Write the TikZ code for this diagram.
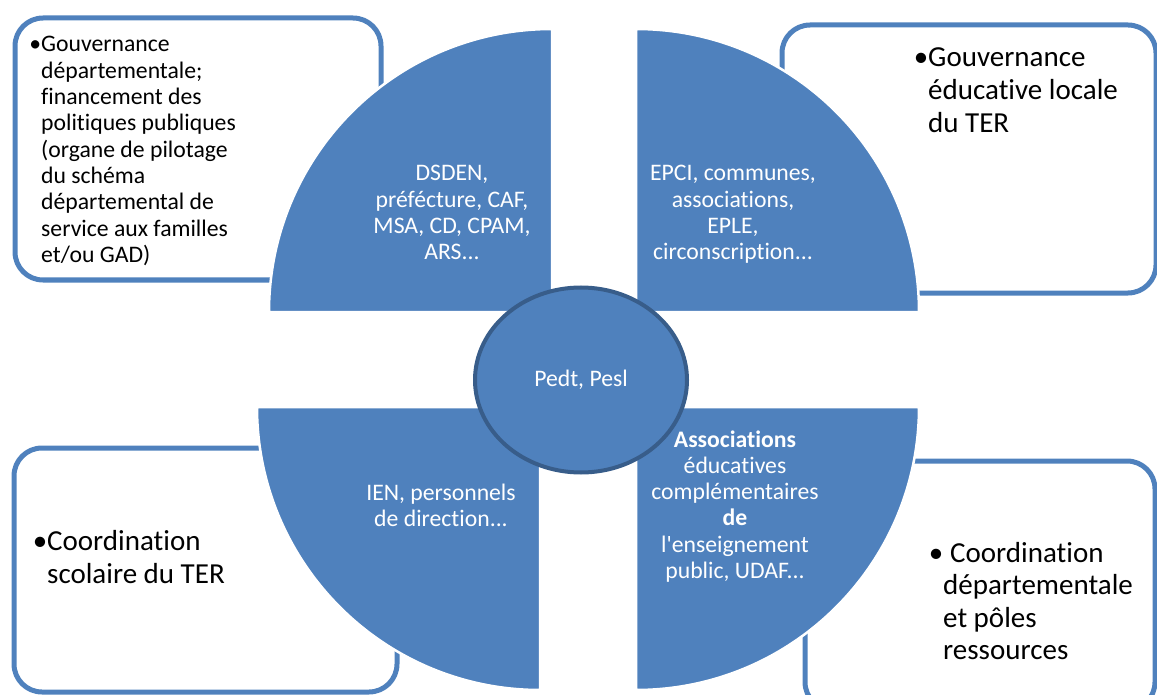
\documentclass[tikz,border=0pt]{standalone}
\usepackage{fontspec}
\setmainfont{Carlito}[Ligatures={TeXOff,CommonOff}]
\usetikzlibrary{shapes.geometric}
\definecolor{accentblue}{HTML}{4F81BD}
\definecolor{darkblue}{HTML}{385D8A}
\newcommand{\puce}{\llap{\textbullet}}
\tikzset{
  cadre/.style={draw=accentblue, line width=5pt, rounded corners=28pt},
  secteur/.style={fill=accentblue, draw=white, line width=2.5pt},
  hub/.style={ellipse, draw=darkblue, line width=4pt, fill=accentblue,
    minimum width=212pt, minimum height=185pt, inner sep=0pt,
    text=white, font=\fontsize{23.7}{26.3}\selectfont},
  intext/.style={text=white, anchor=base, inner sep=0pt,
    font=\fontsize{23.7}{26.3}\selectfont},
  outtext/.style={anchor=base west, inner sep=0pt}
}
\begin{document}
\begin{tikzpicture}[x=1pt,y=-1pt]
\useasboundingbox (0,0) rectangle (1157,695);

% outer boxes
\draw[cadre] (15,18)   rectangle (381,280);
\draw[cadre] (782,25)  rectangle (1156,293);
\draw[cadre] (14,448)  rectangle (397,692);
\draw[cadre] (805,461) rectangle (1155,710);

% quarters
\filldraw[secteur] (552,312) -- (269,312) arc[start angle=180, end angle=270, radius=283] -- cycle;
\filldraw[secteur] (636,312) -- (636,29)  arc[start angle=270, end angle=360, radius=283] -- cycle;
\filldraw[secteur] (540,407) -- (540,690) arc[start angle=90,  end angle=180, radius=283] -- cycle;
\filldraw[secteur] (636,407) -- (919,407) arc[start angle=0,   end angle=90,  radius=283] -- cycle;

% centre
\node[hub] (pedt) at (581,380) {Pedt, Pesl};

% texts in the quarters
\node[intext] (membres) at (452,181) {\begin{tabular}[t]{@{}c@{}}DSDEN,\\préfécture, CAF,\\MSA, CD, CPAM,\\ARS...\end{tabular}};
\node[intext] (locaux) at (733,181) {\begin{tabular}[t]{@{}c@{}}EPCI, communes,\\associations,\\EPLE,\\circonscription...\end{tabular}};
\node[intext] (ien) at (441,500) {\begin{tabular}[t]{@{}c@{}}IEN, personnels\\de direction...\end{tabular}};
\node[intext] (assoc) at (735,447) {\begin{tabular}[t]{@{}c@{}}\textbf{Associations}\\éducatives\\complémentaires\\\textbf{de}\\l'enseignement\\public, UDAF...\end{tabular}};

% texts in the boxes
\node[outtext, font=\fontsize{23.7}{26.3}\selectfont] (gouvdep) at (41,52) {\begin{tabular}[t]{@{}l@{}}\puce Gouvernance\\départementale;\\financement des\\politiques publiques\\(organe de pilotage\\du schéma\\départemental de\\service aux familles\\et/ou GAD)\end{tabular}};
\node[outtext, font=\fontsize{29}{33}\selectfont] (gouvloc) at (928,67) {\begin{tabular}[t]{@{}l@{}}\puce Gouvernance\\éducative locale\\du TER\end{tabular}};
\node[outtext, font=\fontsize{29}{33}\selectfont] (coordsco) at (47,550) {\begin{tabular}[t]{@{}l@{}}\puce Coordination\\scolaire du TER\end{tabular}};
\node[outtext, font=\fontsize{29}{32.5}\selectfont] (coorddep) at (943,562) {\begin{tabular}[t]{@{}l@{}}\puce\hspace{7pt}Coordination\\départementale\\et pôles\\ressources\end{tabular}};
\end{tikzpicture}
\end{document}
